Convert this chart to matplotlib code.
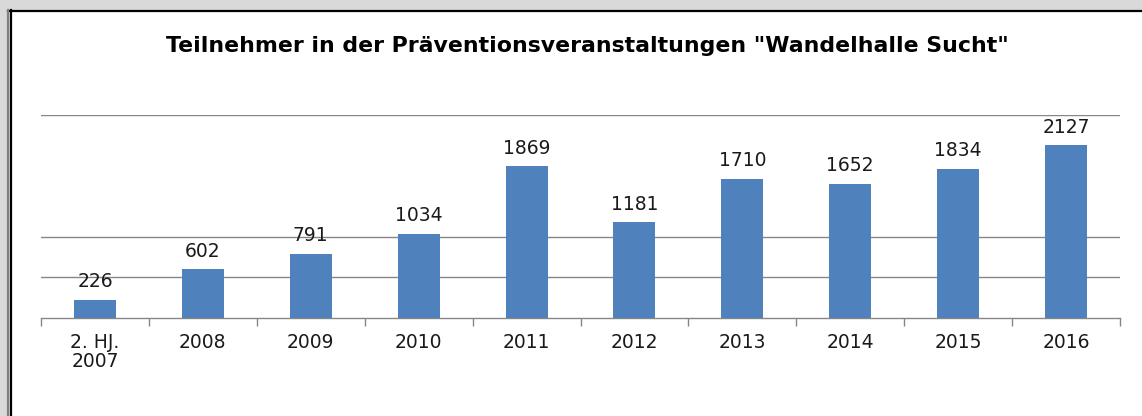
import numpy as np
import matplotlib
matplotlib.use("Agg")
import matplotlib.pyplot as plt
from matplotlib.patches import Rectangle
from matplotlib.lines import Line2D

# Daten
kategorien = ["2. HJ.\n2007", "2008", "2009", "2010", "2011",
              "2012", "2013", "2014", "2015", "2016"]
teilnehmer = [226, 602, 791, 1034, 1869, 1181, 1710, 1652, 1834, 2127]
gitterlinien = [500, 1000, 2500]

W, H = 1142, 416
fig = plt.figure(figsize=(W / 100, H / 100), dpi=100)
fig.patch.set_facecolor("#d9d9d9")

# weisser Diagrammbereich mit Rahmen oben/links
fig.patches.append(Rectangle((10 / W, 0), 1.0, (H - 10) / H,
                             transform=fig.transFigure, facecolor="white",
                             edgecolor="none", zorder=-5))
fig.lines.append(Line2D([8 / W, 1.0], [(H - 10.5) / H] * 2,
                        transform=fig.transFigure, color="black", lw=1.6,
                        zorder=-4))
fig.lines.append(Line2D([10.5 / W] * 2, [0, (H - 10) / H],
                        transform=fig.transFigure, color="black", lw=1.6,
                        zorder=-4))
fig.lines.append(Line2D([8.3 / W] * 2, [0, (H - 10) / H],
                        transform=fig.transFigure, color="#808080", lw=1.6,
                        zorder=-4))

ax = fig.add_axes([41 / W, (H - 318) / H, (1120 - 41) / W, (318 - 114.5) / H])
ax.set_zorder(2)
ax.set_facecolor("none")

x = np.arange(len(kategorien))
ax.bar(x, teilnehmer, width=0.39, color="#4f81bd", zorder=3)

for xi, v in zip(x, teilnehmer):
    ax.annotate(str(v), (xi, v), xytext=(0, 6), textcoords="offset points",
                ha="center", va="bottom", fontsize=13.5, color="#1a1a1a")

for g in gitterlinien:
    ax.axhline(g, color="#868686", lw=1.0, zorder=1)

ax.set_xlim(-0.5, len(kategorien) - 0.5)
ax.set_ylim(0, 2500)
ax.set_yticks([])
for s in ["left", "right", "top"]:
    ax.spines[s].set_visible(False)
ax.spines["bottom"].set_color("#868686")
ax.spines["bottom"].set_linewidth(1.0)

ax.set_xticks(x)
ax.set_xticklabels(kategorien, fontsize=13.5, color="#1a1a1a", linespacing=1.05)
ax.tick_params(axis="x", which="major", length=0, pad=10.5)
ax.set_xticks(np.arange(len(kategorien) + 1) - 0.5, minor=True)
ax.tick_params(axis="x", which="minor", length=6, width=1.0, color="#868686",
               direction="out")

fig.text(587 / W, 1 - 46 / H,
         "Teilnehmer in der Präventionsveranstaltungen \"Wandelhalle Sucht\"",
         ha="center", va="center", fontsize=15.8, fontweight="bold",
         color="black")

fig.savefig("out.png", dpi=100, facecolor=fig.get_facecolor())
